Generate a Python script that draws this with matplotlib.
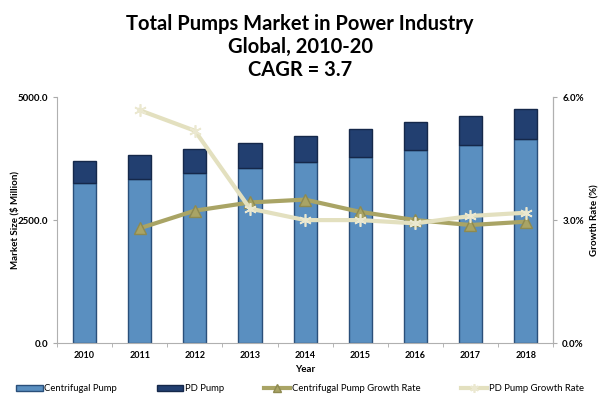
import matplotlib
matplotlib.use('Agg')
from matplotlib import pyplot as plt
import numpy as np

plt.rcParams['font.family'] = ['Lato', 'DejaVu Sans']

years = ['2010', '2011', '2012', '2013', '2014', '2015', '2016', '2017', '2018']
centrifugal = [3250, 3345, 3450, 3550, 3680, 3790, 3915, 4025, 4145]
pd_pump = [450, 480, 495, 520, 535, 555, 570, 590, 605]
cent_growth = [np.nan, 2.80, 3.23, 3.43, 3.50, 3.20, 3.00, 2.88, 2.96]
pd_growth = [np.nan, 5.68, 5.18, 3.28, 3.00, 3.00, 2.92, 3.10, 3.18]

x = np.arange(len(years))

fig = plt.figure(figsize=(6, 3.98), dpi=100)
ax = fig.add_axes([0.095, 0.138, 0.827, 0.618])
ax2 = ax.twinx()

w = 0.42
b1 = ax.bar(x, centrifugal, w, color='#5a8fc0', edgecolor='#2a4f7a', linewidth=1,
            label='Centrifugal Pump', zorder=2)
b2 = ax.bar(x, pd_pump, w, bottom=centrifugal, color='#223f70', edgecolor='#15284a',
            linewidth=1, label='PD Pump', zorder=2)

l1, = ax2.plot(x, cent_growth, color='#a9a465', lw=3, marker='^', ms=8,
               markeredgecolor='#8e8a50', label='Centrifugal Pump Growth Rate')
l2, = ax2.plot(x, pd_growth, color='#e3e0bf', lw=3, marker=(6, 2, 0), ms=9,
               markeredgecolor='#ebe8d0', markeredgewidth=1.2, label='PD Pump Growth Rate')

ax.set_xlim(-0.5, len(years) - 0.5)
ax.set_ylim(0, 5000)
ax.set_yticks([0, 2500, 5000])
ax.set_yticklabels(['0.0', '2500.0', '5000.0'])
ax2.set_ylim(0, 6)
ax2.set_yticks([0, 3, 6])
ax2.set_yticklabels(['0.0%', '3.0%', '6.0%'])

ax.set_xticks(x)
ax.set_xticklabels(years)
ax.set_xticks(np.arange(-0.5, len(years), 1), minor=True)
ax.tick_params(axis='x', which='major', length=0, pad=6)
ax.tick_params(axis='x', which='minor', length=3, color='#aaaaaa')

for a in (ax, ax2):
    a.spines['top'].set_visible(False)
    for s in ('left', 'right', 'bottom'):
        a.spines[s].set_color('#b0b0b0')
    a.tick_params(axis='y', length=3, color='#aaaaaa', labelsize=7)
ax2.spines['left'].set_visible(False)
ax2.spines['bottom'].set_visible(False)
ax.tick_params(axis='x', labelsize=6.5)
for t in ax.get_xticklabels() + ax.get_yticklabels() + ax2.get_yticklabels():
    t.set_fontweight('bold')

ax.set_ylabel('Market Size ($ Million)', fontsize=7, fontweight='bold')
ax.yaxis.set_label_coords(-0.075, 0.5)
ax2.set_ylabel('Growth Rate (%)', fontsize=7, fontweight='bold')
ax2.yaxis.set_label_coords(1.075, 0.5)
ax.set_xlabel('Year', fontsize=7, fontweight='bold', labelpad=3)

fig.text(0.5, 0.965, 'Total Pumps Market in Power Industry\nGlobal, 2010-20\nCAGR = 3.7',
         ha='center', va='top', fontsize=14.5, fontweight='bold', linespacing=1.2)

fig.legend(handles=[b1, b2, l1, l2], loc='lower center', ncol=4, frameon=False,
           fontsize=6.8, bbox_to_anchor=(0.5, -0.01), handlelength=2.8,
           handletextpad=0.2, columnspacing=4.2, markerscale=0.7)

fig.savefig('out.png', dpi=100)
